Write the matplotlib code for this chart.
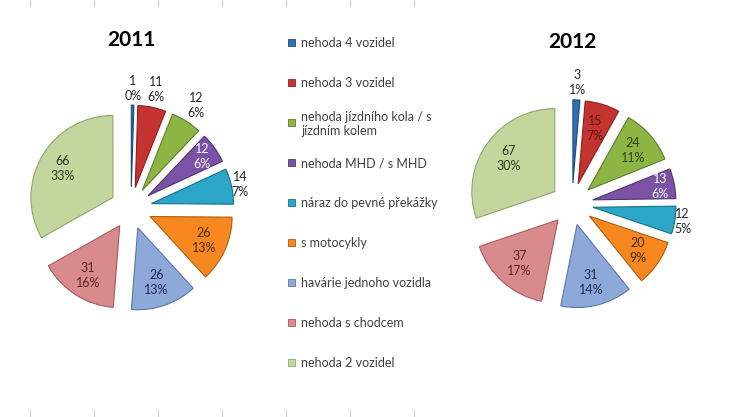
import numpy as np
import matplotlib.pyplot as plt
from matplotlib.patches import Rectangle
from matplotlib.lines import Line2D

plt.rcParams['font.family'] = ['Lato', 'DejaVu Sans']

# categories (legend order = slice order, clockwise from 12 o'clock)
categories = ['nehoda 4 vozidel', 'nehoda 3 vozidel',
              'nehoda jízdního kola / s\njízdním kolem', 'nehoda MHD / s MHD',
              'náraz do pevné překážky', 's motocykly',
              'havárie jednoho vozidla', 'nehoda s chodcem', 'nehoda 2 vozidel']

values_2011 = [1, 11, 12, 12, 14, 26, 26, 31, 66]
pct_2011 = [0, 6, 6, 6, 7, 13, 13, 16, 33]
values_2012 = [3, 15, 24, 13, 12, 20, 31, 37, 67]
pct_2012 = [1, 7, 11, 6, 5, 9, 14, 17, 30]

colors = ['#2F6EB5', '#C4332F', '#8DB543', '#7B52A6', '#2BA6C8',
          '#F7871F', '#8EA8D9', '#D98A8C', '#C2D69D']
edges = ['#1D4A7E', '#8A2220', '#5F7D2A', '#523570', '#1B7088',
         '#B05E12', '#5E77A6', '#A35E60', '#8FA56C']
text_in = ['#1D3557', '#5C1512', '#2F451A', 'white', '#123F4C',
           '#4D2A08', '#1E2A52', '#5A2626', '#2E3A22']

# how far the data label sits from the pie centre (in radii)
lab_r_2011 = [1.46, 1.48, 1.48, 1.07, 1.36, 0.97, 0.96, 0.97, 0.96]
lab_r_2012 = [1.46, 0.95, 0.98, 1.08, 1.35, 0.97, 0.97, 0.96, 0.94]

W, H = 737, 417
fig = plt.figure(figsize=(W / 100, H / 100), dpi=100)
LIM = 1.6


def pie_axes(cx, cy, r):
    half = LIM * r
    return fig.add_axes([(cx - half) / W, (H - cy - half) / H, 2 * half / W, 2 * half / H])


def draw_pie(cx, cy, r, values, pcts, lab_r, title, ty):
    ax = pie_axes(cx, cy, r)
    wedges, _ = ax.pie(values, colors=colors, startangle=90, counterclock=False,
                       explode=[0.255] * len(values), wedgeprops=dict(linewidth=0.8))
    ax.set_xlim(-LIM, LIM)
    ax.set_ylim(-LIM, LIM)
    for w, ec, v, p, rl, tc in zip(wedges, edges, values, pcts, lab_r, text_in):
        w.set_edgecolor(ec)
        a = np.deg2rad((w.theta1 + w.theta2) / 2)
        col = tc if rl < 1.2 else '#262626'
        ax.text(rl * np.cos(a), rl * np.sin(a), f'{v}\n{p}%', ha='center', va='center',
                fontsize=9, color=col, linespacing=1.3, clip_on=False)
    fig.text(cx / W, 1 - ty / H, title, ha='center', va='center',
             fontsize=15, fontweight='bold', color='black')


draw_pie(131, 208, 82, values_2011, pct_2011, lab_r_2011, '2011', 40)
draw_pie(572, 204, 83, values_2012, pct_2012, lab_r_2012, '2012', 42)

# legend
leg_y0, leg_dy = 42, 40
for i, (lab, c, ec) in enumerate(zip(categories, colors, edges)):
    y = leg_y0 + i * leg_dy
    fig.patches.append(Rectangle((288 / W, 1 - (y + 3.5) / H), 7 / W, 7 / H,
                                 transform=fig.transFigure, facecolor=c,
                                 edgecolor=ec, linewidth=0.6, figure=fig))
    fig.text(301 / W, 1 - y / H, lab, ha='left', va='center_baseline',
             fontsize=9, color='#404040')

# faint worksheet cell marks at top and bottom
for k in range(7):
    x = (30 + 64 * k) / W
    for y0, y1 in [(0, 6), (410, 417)]:
        fig.lines.append(Line2D([x, x], [1 - y0 / H, 1 - y1 / H], transform=fig.transFigure,
                                color='#d4d4d4', linewidth=1))

fig.savefig('out.png', dpi=100)
